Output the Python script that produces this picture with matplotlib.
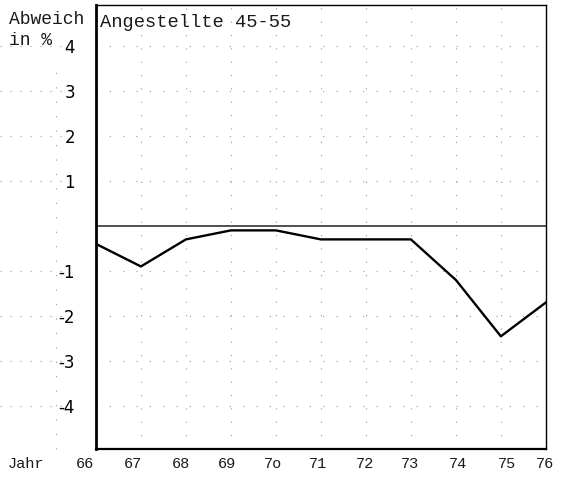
import matplotlib.pyplot as plt
import matplotlib.transforms as mtransforms
import numpy as np

# Abweichung in % je Jahr
jahre = [66, 67, 68, 69, 70, 71, 72, 73, 74, 75, 76]
abweichung = [-0.4, -0.9, -0.3, -0.1, -0.1, -0.3, -0.3, -0.3, -1.2, -2.45, -1.7]
jahr_labels = ["66", "67", "68", "69", "7o", "71", "72", "73", "74", "75", "76"]
y_ticks = [4, 3, 2, 1, -1, -2, -3, -4]
y_labels = ["4", "3", "2", "1", "-1", "-2", "-3", "-4"]

mono = "Liberation Mono"
tinte = "#1a1a1a"

fig = plt.figure(figsize=(5.61, 4.79), dpi=100)
ax = fig.add_axes([0.171, 0.0626, 0.802, 0.927])

ax.set_xlim(66, 76)
ax.set_ylim(-4.95, 4.9)

# gepunktetes Raster
for x in jahre[1:-1]:
    ax.axvline(x, color="#999999", lw=0.8, ls=(0, (1, 11)), zorder=0)
for y in y_ticks:
    ax.axhline(y, color="#999999", lw=0.8, ls=(0, (1, 11)), zorder=0)

# Raster links ausserhalb der Achse
trans = mtransforms.blended_transform_factory(fig.transFigure, ax.transData)
for y in y_ticks:
    ax.plot([0.0, 0.11], [y, y], color="#999999", lw=0.8, ls=(0, (1, 8)),
            transform=trans, clip_on=False)
ax.plot([0.1, 0.1], [-4.95, 3.6], color="#999999", lw=0.8, ls=(0, (1, 12)),
        transform=trans, clip_on=False)

# Nulllinie
ax.axhline(0, color="#333333", lw=1.2)

# Kurve
ax.plot(jahre, abweichung, color="black", lw=1.7)

# Rahmen
ax.spines["left"].set_linewidth(2.0)
ax.spines["bottom"].set_linewidth(1.6)
ax.spines["top"].set_linewidth(1.0)
ax.spines["right"].set_linewidth(1.0)

ax.set_xticks([])
ax.set_yticks(y_ticks)
ax.set_yticklabels(y_labels, fontsize=12, fontfamily="DejaVu Sans")
ax.tick_params(axis="y", length=0, pad=15)

# Jahreszahlen (Schreibmaschine, leicht versetzt)
label_x = [65.75, 66.82, 67.9, 68.92, 69.94, 70.93, 71.98, 72.98, 74.04, 75.13, 75.98]
xtrans = mtransforms.blended_transform_factory(ax.transData, fig.transFigure)
for lx, lab in zip(label_x, jahr_labels):
    ax.text(lx, 0.031, lab, ha="center", va="center", fontsize=11,
            fontfamily=mono, color=tinte, transform=xtrans)
fig.text(0.046, 0.031, "Jahr", ha="center", va="center", fontsize=11,
         fontfamily=mono, color=tinte)

# Beschriftungen oben
fig.text(0.016, 0.959, "Abweich", ha="left", va="center", fontsize=13,
         fontfamily=mono, color=tinte)
fig.text(0.016, 0.916, "in %", ha="left", va="center", fontsize=13,
         fontfamily=mono, color=tinte)
ax.text(0.009, 0.961, "Angestellte 45-55", transform=ax.transAxes,
        ha="left", va="center", fontsize=13.5, fontfamily=mono, color=tinte)

fig.savefig("out.png", dpi=100)
